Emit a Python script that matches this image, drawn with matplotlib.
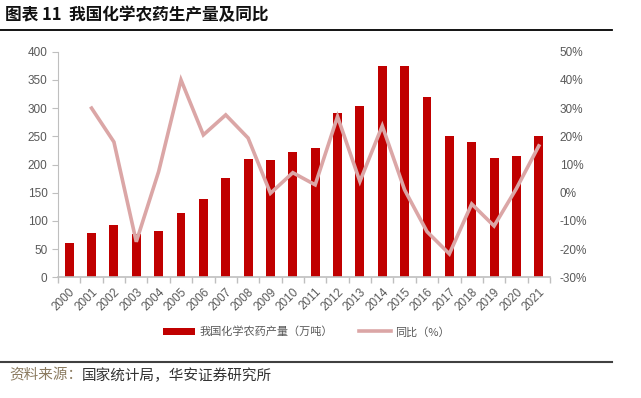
import matplotlib
matplotlib.use('Agg')
import matplotlib.pyplot as plt
import numpy as np

plt.rcParams['font.family'] = ['Liberation Sans', 'Noto Sans CJK SC', 'DejaVu Sans']

years = [str(y) for y in range(2000, 2022)]
output = [60, 78, 92, 76, 82, 114, 138, 176, 210, 208, 223, 230,
          291, 304, 374, 374, 320, 250, 240, 211, 215, 250]
yoy = [None, 30.0, 18.0, -17.4, 7.5, 40.0, 20.5, 27.6, 19.4, -0.2, 7.1, 2.8,
       27.0, 4.0, 23.7, 1.0, -13.8, -21.7, -4.0, -11.8, 1.5, 16.6]

bar_color = '#C00000'
line_color = '#DBA6A6'
tick_color = '#595959'
cjk = ['Noto Sans CJK SC', 'DejaVu Sans']

fig = plt.figure(figsize=(6.41, 3.98), dpi=100)
ax = fig.add_axes([0.0905, 0.3033, 0.7675, 0.5667])
ax2 = ax.twinx()

x = np.arange(len(years))
bars = ax.bar(x, output, width=0.4, color=bar_color, zorder=2, label='我国化学农药产量（万吨）')
yx = [i for i, v in enumerate(yoy) if v is not None]
yv = [v for v in yoy if v is not None]
line, = ax2.plot(yx, yv, color=line_color, linewidth=2.6, solid_joinstyle='miter',
                 label='同比（%）')

ax.set_xlim(-0.5, len(years) - 0.5)
ax.set_ylim(0, 400)
ax.set_yticks(range(0, 401, 50))
ax2.set_ylim(-30, 50)
ax2.set_yticks(range(-30, 51, 10))
ax2.set_yticklabels(['{}%'.format(v) for v in range(-30, 51, 10)])

ax.set_xticks(x)
ax.set_xticklabels(years, rotation=45, ha='right', rotation_mode='anchor')
ax.set_xticks(np.arange(-0.5, len(years)), minor=True)
ax.tick_params(axis='x', which='major', length=0, labelsize=8.5, colors=tick_color, pad=6)
ax.tick_params(axis='x', which='minor', length=4, color='#BFBFBF', width=1, direction='out')
ax.tick_params(axis='y', length=4, color='#BFBFBF', labelsize=8.5, labelcolor=tick_color)
ax2.tick_params(axis='y', length=0, labelsize=8.5, labelcolor=tick_color, pad=7)

for a in (ax, ax2):
    a.spines['top'].set_visible(False)
    a.spines['right'].set_visible(False)
    a.spines['left'].set_visible(False)
    a.spines['bottom'].set_visible(False)
ax.spines['left'].set_visible(True)
ax.spines['left'].set_color('#BFBFBF')
ax.spines['bottom'].set_visible(True)
ax.spines['bottom'].set_color('#BFBFBF')
ax.spines['bottom'].set_linewidth(1.2)

# Title and frame lines
fig.text(0.008, 0.963, '图表 11  我国化学农药生产量及同比', family=cjk, fontsize=12,
         fontweight='bold', va='center', ha='left', color='#111111')
fig.add_artist(plt.Line2D([0.0, 0.955], [0.925, 0.925], color='black', linewidth=1.3))
fig.add_artist(plt.Line2D([0.0, 0.955], [0.091, 0.091], color='#404040', linewidth=1.5))

src1 = fig.text(0.014, 0.056, '资料来源：', family=cjk, fontsize=10.5, va='center',
                ha='left', color='#8B7B60')
fig.canvas.draw()
bb = src1.get_window_extent()
fig.text(bb.x1 / fig.bbox.width, 0.056, '国家统计局，华安证券研究所', family=cjk, fontsize=10.5,
         va='center', ha='left', color='#333333')

leg = fig.legend(handles=[bars, line], loc='center', bbox_to_anchor=(0.478, 0.166), ncol=2,
                 frameon=False, prop={'family': cjk, 'size': 8}, handlelength=2.9,
                 handletextpad=0.4, columnspacing=2.3)
for t in leg.get_texts():
    t.set_color(tick_color)
leg.legend_handles[0].set_height(5)

fig.savefig('out.png', dpi=100)
